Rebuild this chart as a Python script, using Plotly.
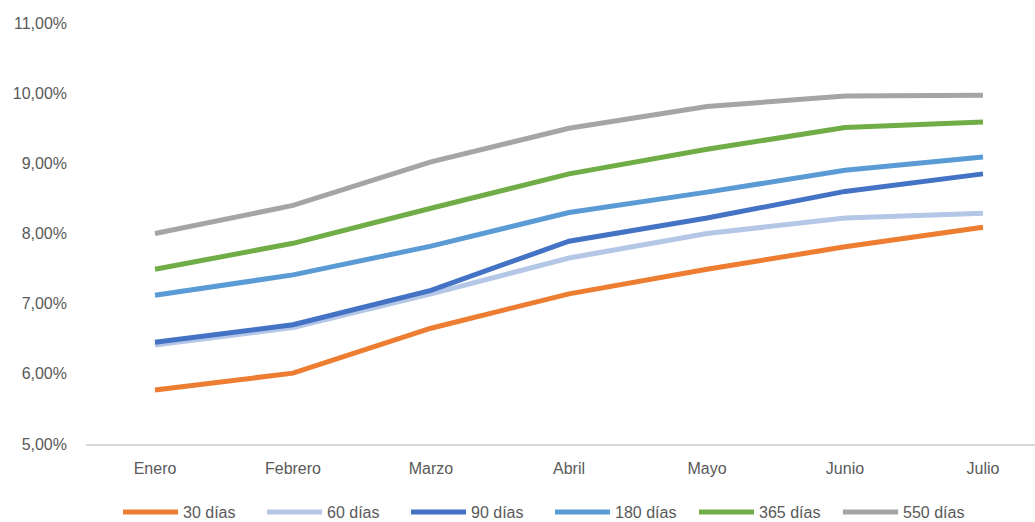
import plotly.graph_objects as go

meses = ["Enero", "Febrero", "Marzo", "Abril", "Mayo", "Junio", "Julio"]

tasa_30 = [5.77, 6.01, 6.65, 7.14, 7.49, 7.81, 8.09]
tasa_60 = [6.41, 6.66, 7.14, 7.65, 8.00, 8.22, 8.29]
tasa_90 = [6.45, 6.70, 7.19, 7.89, 8.22, 8.60, 8.85]
tasa_180 = [7.12, 7.41, 7.82, 8.30, 8.59, 8.90, 9.09]
tasa_365 = [7.49, 7.86, 8.36, 8.85, 9.20, 9.51, 9.59]
tasa_550 = [8.00, 8.40, 9.02, 9.50, 9.81, 9.96, 9.97]

series = [
    ("30 días", tasa_30, "#ED7D31"),
    ("60 días", tasa_60, "#B4C7E7"),
    ("90 días", tasa_90, "#4472C4"),
    ("180 días", tasa_180, "#5B9BD5"),
    ("365 días", tasa_365, "#70AD47"),
    ("550 días", tasa_550, "#A5A5A5"),
]

fig = go.Figure()
for nombre, valores, color in series:
    fig.add_trace(go.Scatter(
        x=meses,
        y=[v / 100 for v in valores],
        mode="lines",
        name=nombre,
        line=dict(color=color, width=5),
    ))

fig.update_layout(
    width=1035,
    height=522,
    margin=dict(l=86, r=0, t=23, b=78),
    paper_bgcolor="white",
    plot_bgcolor="white",
    separators=",.",
    font=dict(family="Liberation Sans, Arial", size=16, color="#595959"),
    xaxis=dict(
        type="category",
        range=[-0.5, 6.377],
        showgrid=False,
        showline=True,
        linecolor="#D9D9D9",
        linewidth=2,
        ticks="",
        ticklabelstandoff=9,
        tickfont=dict(size=16, color="#595959"),
    ),
    yaxis=dict(
        range=[0.05, 0.11],
        tickvals=[0.05, 0.06, 0.07, 0.08, 0.09, 0.10, 0.11],
        tickformat=".2%",
        showgrid=False,
        zeroline=False,
        showline=False,
        ticks="",
        ticklabelstandoff=18,
        tickfont=dict(size=16, color="#595959"),
    ),
    legend=dict(
        orientation="h",
        xref="container",
        yref="container",
        x=118 / 1035,
        xanchor="left",
        y=27 / 522,
        yanchor="top",
        itemwidth=55,
        entrywidth=74,
        font=dict(size=16, color="#595959"),
        tracegroupgap=0,
    ),
    showlegend=True,
)

fig.write_html("out.html")
